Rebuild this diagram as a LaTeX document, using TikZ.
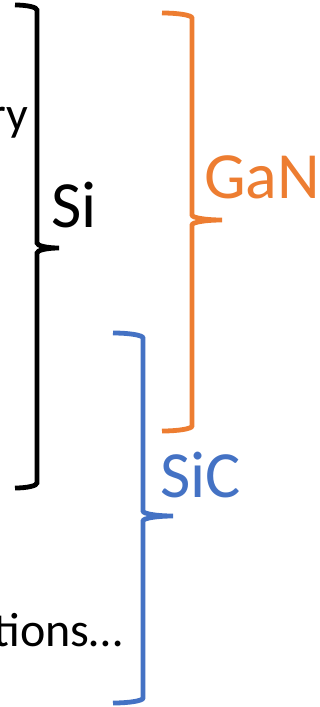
\documentclass[tikz,border=0pt]{standalone}
\usepackage{fontspec}
\setmainfont{Carlito}
\definecolor{bracegan}{HTML}{ED7D31}
\definecolor{bracesic}{HTML}{4472C4}
\tikzset{
  curly/.style={line width=4.8pt},
  bigtag/.style={inner sep=0pt, font=\fontsize{66}{79}\selectfont},
  sidetag/.style={inner sep=0pt, font=\fontsize{48}{58}\selectfont},
}
\begin{document}
\begin{tikzpicture}[x=1pt,y=-1pt]
  \useasboundingbox (0,0) rectangle (320,707);
  \clip (0,0) rectangle (320,707);
  % Si brace
  \draw[curly, black] (15,5) .. controls (27.1,5) and (37,7.25) .. (37,10)
    -- (37,243) .. controls (37,245.75) and (46.9,248) .. (59,248)
    .. controls (46.9,248) and (37,250.25) .. (37,253)
    -- (37,483) .. controls (37,485.75) and (27.1,488) .. (15,488);
  % GaN brace
  \draw[curly, bracegan] (162,13) .. controls (178.5,13) and (192,15.25) .. (192,18)
    -- (192,215) .. controls (192,217.75) and (205.5,220) .. (222,220)
    .. controls (205.5,220) and (192,222.25) .. (192,225)
    -- (192,426) .. controls (192,428.75) and (178.5,431) .. (162,431);
  % SiC brace
  \draw[curly, bracesic] (113,333) .. controls (129.5,333) and (143,335.25) .. (143,338)
    -- (143,511) .. controls (143,513.75) and (156.5,516) .. (173,516)
    .. controls (156.5,516) and (143,518.25) .. (143,521)
    -- (143,698) .. controls (143,700.75) and (129.5,703) .. (113,703);
  % labels
  \node[sidetag, anchor=base east] (ry) at (28,130) {ry};
  \node[sidetag, anchor=base east] (tions) at (123,646) {tions…};
  \node[bigtag, anchor=base west] (si) at (51,227) {Si};
  \node[bigtag, anchor=base west, text=bracegan] (gan) at (204,198) {GaN};
  \node[bigtag, anchor=base west, text=bracesic] (sic) at (160,497) {SiC};
\end{tikzpicture}
\end{document}
